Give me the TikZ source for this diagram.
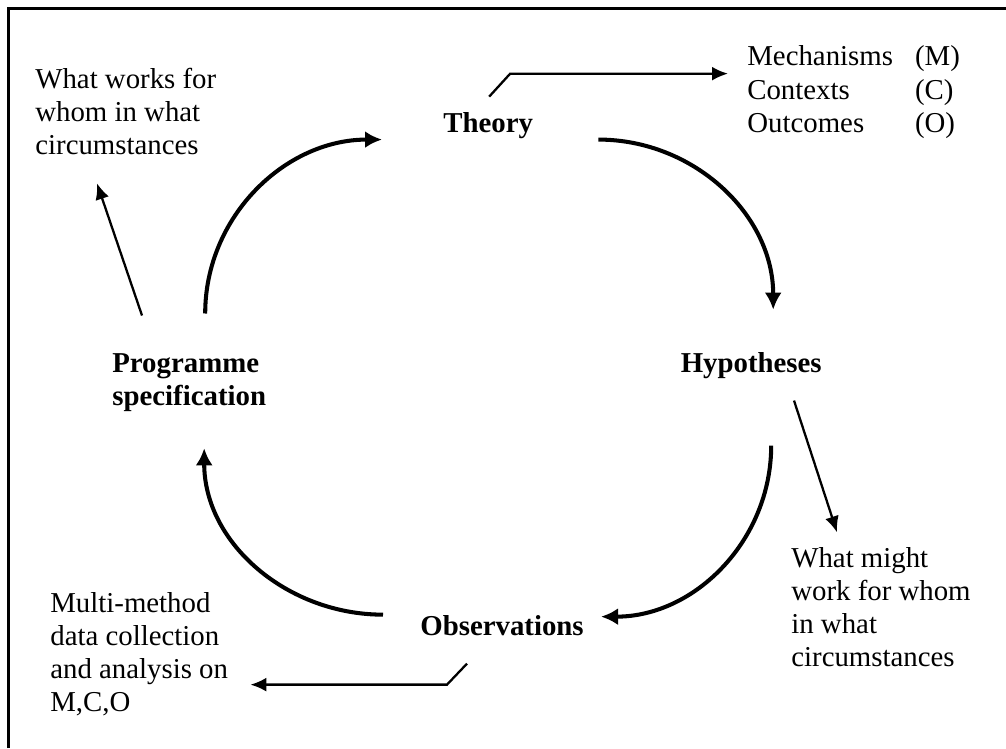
\documentclass[tikz,border=0pt]{standalone}
\usepackage{fontspec}
\setmainfont{Liberation Serif}
\usetikzlibrary{arrows.meta, calc}
\newcommand{\diagfont}{\fontsize{16.4}{18.8}\selectfont}

\begin{document}
\begin{tikzpicture}[x=0.2mm, y=0.2mm, >={Latex[length=3.4mm, width=3.4mm]},
  cyc/.style={line width=2.3pt, ->},
  pointer/.style={line width=1.3pt, -{Latex[length=3.2mm, width=2.8mm]}},
  note/.style={font=\diagfont, align=left, inner sep=0pt, anchor=north west},
  stage/.style={font=\diagfont\bfseries, inner sep=0pt}]
  \useasboundingbox (0,0) rectangle (1006,748);
  \draw [line width=1.8pt] (8.5,0) -- (8.5,739.5) -- (1006,739.5);

  % the four stages
  \node (theory) at (443,615) [stage, anchor=base west] {Theory};
  \node (hyp) at (822,376) [stage, anchor=base east] {Hypotheses};
  \node (obs) at (420,113) [stage, anchor=base west] {Observations};
  \node (prog) at (112,394.5) [stage, align=left, anchor=north west] {Programme\\specification};

  % side notes
  \node (works) at (35,680) [note] {What works for\\whom in what\\circumstances};
  \node (mco) at (747,682) [font=\diagfont, inner sep=0pt, anchor=base west]
    {\begin{tabular}[t]{@{}l@{\hspace{4.4mm}}l@{}}
      Mechanisms & (M)\\
      Contexts & (C)\\
      Outcomes & (O)
    \end{tabular}};
  \node (might) at (791,200.7) [note] {What might\\work for whom\\in what\\circumstances};
  \node (multi) at (50,155.7) [note] {Multi-method\\data collection\\and analysis on\\M,C,O};

  % the cycle
  \draw [cyc] ([shift={(16,40)}]prog.north) to[out=90, in=180] ([shift={(-61,0)}]theory.south west);
  \draw [cyc] ([shift={(65,0)}]theory.south east) to[out=0, in=90] ([shift={(22,42)}]hyp.north);
  \draw [cyc] ([shift={(20,-67)}]hyp.south) to[out=-90, in=0] ([shift={(17,-2)}]obs.north east);
  \draw [cyc] ([shift={(-37,0)}]obs.north west) to[out=180, in=-90] ([shift={(15,-36)}]prog.south);

  % pointers to the notes
  \draw [pointer] ([shift={(30,38)}]prog.north west) -- ([shift={(62,-28)}]works.south west);
  \draw [pointer, shorten >=3.8mm] ([shift={(1,16)}]theory.north) -- ++(21,23) coordinate (tbend)
    -- (tbend -| mco.west);
  \draw [pointer] ([shift={(-28,-22)}]hyp.south east) -- ([shift={(46,15)}]might.north west);
  \draw [pointer, shorten >=4.4mm] ([shift={(47,-28)}]obs.south west) -- ++(-20,-21) coordinate (obend)
    -- (obend -| multi.east);
\end{tikzpicture}
\end{document}
